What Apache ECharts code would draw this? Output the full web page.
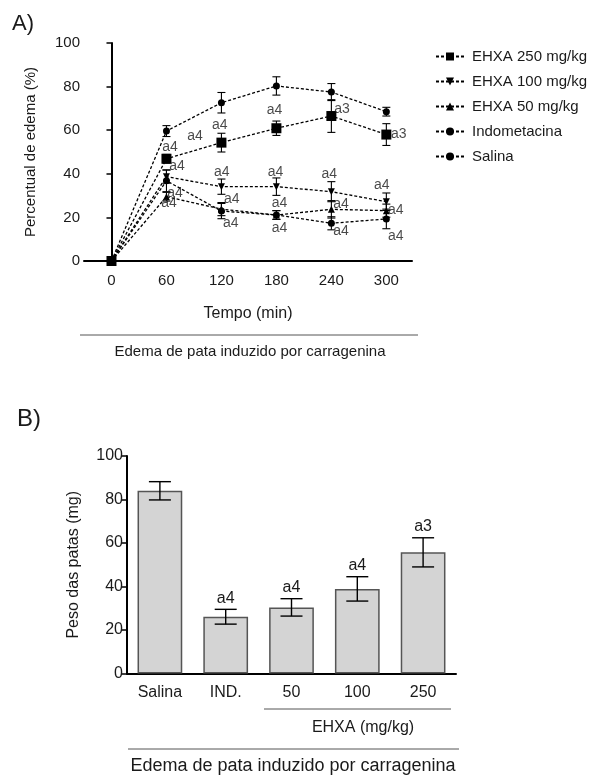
<!DOCTYPE html>
<html>
<head>
<meta charset="utf-8">
<script src="https://cdn.jsdelivr.net/npm/echarts@6/dist/echarts.min.js"></script>
<style>
  html, body { margin: 0; padding: 0; background: #fff; }
  #main { width: 591px; height: 776px; }
</style>
</head>
<body>
<div id="main"></div>
<script>
var chartDom = document.getElementById('main');
var myChart = echarts.init(chartDom);
var option;

// A) edema (%) over time
var timePoints = [0, 60, 120, 180, 240, 300];
var ehxa250 = [0, 46.9, 54.3, 60.9, 66.5, 58.0];
var ehxa250Err = [0, 2, 4.3, 3.3, 7.5, 5];
var ehxa100 = [0, 38.7, 34.1, 34.1, 31.8, 27.2];
var ehxa100Err = [0, 3, 3.5, 4, 4.6, 4];
var ehxa50 = [0, 29.5, 23.8, 21.1, 23.7, 23.1];
var ehxa50Err = [0, 2, 3, 2, 4, 3];
var indometacina = [0, 36.8, 22.9, 21.1, 17.3, 19.3];
var indometacinaErr = [0, 5, 3.5, 2, 3, 4.5];
var salina = [0, 59.6, 72.6, 80.3, 77.5, 68.5];
var salinaErr = [0, 2.5, 4.7, 4.2, 3.9, 2];
var timeTicks = [0, 60, 120, 180, 240, 300];

// significance letters in panel A (x in min, y in %)
var annotA = [
  [64, 52.3, 'a4'], [71.6, 43.6, 'a4'], [69.4, 31.2, 'a4'], [62.9, 26.6, 'a4'],
  [91.1, 57.3, 'a4'], [118.3, 62.4, 'a4'], [120.4, 40.8, 'a4'], [131.3, 28.4, 'a4'], [130.2, 17.4, 'a4'],
  [177.9, 69.3, 'a4'], [179, 40.8, 'a4'], [183.4, 26.6, 'a4'], [183.4, 15.1, 'a4'],
  [251.7, 69.7, 'a3'], [237.6, 39.9, 'a4'], [250.6, 26.1, 'a4'], [250.6, 13.8, 'a4'],
  [313.5, 58.3, 'a3'], [295.1, 34.9, 'a4'], [310.3, 23.4, 'a4'], [310.3, 11.5, 'a4']
];

// B) paw weight
var groupsB = ['Salina', 'IND.', '50', '100', '250'];
var pesoB = [84, 26.1, 30.4, 38.9, 55.7];
var pesoErr = [4.2, 3.4, 4, 5.6, 6.7];
var lettersB = ['', 'a4', 'a4', 'a4', 'a3'];

var FONT = 'Liberation Sans, Arial, sans-serif';
var TXT = '#1a1a1a';

function pts(vals) {
  return timePoints.map(function (t, i) { return [t, vals[i]]; });
}
function errs(vals, e) {
  return timePoints.map(function (t, i) { return [t, vals[i] - e[i], vals[i] + e[i]]; });
}

function errorBar(capHalf, lw) {
  return function (params, api) {
    var x = api.value(0);
    var lo = api.coord([x, api.value(1)]);
    var hi = api.coord([x, api.value(2)]);
    var st = { stroke: '#000', lineWidth: lw };
    return {
      type: 'group',
      children: [
        { type: 'line', shape: { x1: lo[0], y1: lo[1], x2: hi[0], y2: hi[1] }, style: st },
        { type: 'line', shape: { x1: hi[0] - capHalf, y1: hi[1], x2: hi[0] + capHalf, y2: hi[1] }, style: st },
        { type: 'line', shape: { x1: lo[0] - capHalf, y1: lo[1], x2: lo[0] + capHalf, y2: lo[1] }, style: st }
      ]
    };
  };
}

var lineStyleA = { color: '#000', width: 1.3, type: [3, 2] };

function lineSeries(name, vals, symbol, size) {
  return {
    name: name,
    type: 'line',
    xAxisIndex: 0,
    yAxisIndex: 0,
    data: pts(vals),
    symbol: symbol,
    symbolSize: size,
    showAllSymbol: true,
    clip: false,
    z: 5,
    itemStyle: { color: '#000' },
    lineStyle: lineStyleA
  };
}
function errSeries(vals, e) {
  return {
    type: 'custom',
    xAxisIndex: 0,
    yAxisIndex: 0,
    renderItem: errorBar(4, 1.1),
    data: errs(vals, e),
    z: 3,
    silent: true
  };
}

option = {
  animation: false,
  backgroundColor: '#fff',
  textStyle: { fontFamily: FONT, color: TXT },
  grid: [
    { left: 84, top: 43, width: 328, height: 218 },
    { left: 127, top: 456, width: 329, height: 217.5 }
  ],
  legend: {
    orient: 'vertical',
    left: 430,
    top: 44,
    padding: 5,
    itemWidth: 28,
    itemHeight: 10,
    itemGap: 10,
    textStyle: { fontFamily: FONT, fontSize: 15, color: TXT, padding: [0, 0, 0, 3] },
    data: ['EHXA 250 mg/kg', 'EHXA 100 mg/kg', 'EHXA 50 mg/kg', 'Indometacina', 'Salina']
  },
  xAxis: [
    {
      type: 'value',
      gridIndex: 0,
      min: -30,
      max: 328,
      interval: 30,
      name: 'Tempo (min)',
      nameLocation: 'middle',
      nameGap: 45,
      nameTextStyle: { fontFamily: FONT, fontSize: 16, color: TXT },
      axisLine: { lineStyle: { color: '#000', width: 2 } },
      axisTick: { show: false },
      splitLine: { show: false },
      axisLabel: {
        margin: 12,
        fontFamily: FONT, fontSize: 15, color: TXT,
        formatter: function (v) { return timeTicks.indexOf(v) >= 0 ? String(v) : ''; }
      }
    },
    {
      type: 'category',
      gridIndex: 1,
      data: groupsB,
      axisLine: { lineStyle: { color: '#000', width: 2 } },
      axisTick: { show: false },
      axisLabel: { margin: 11, fontFamily: FONT, fontSize: 16, color: TXT }
    }
  ],
  yAxis: [
    {
      type: 'value',
      gridIndex: 0,
      min: 0,
      max: 100,
      interval: 20,
      name: 'Percentual de edema (%)',
      nameLocation: 'middle',
      nameGap: 46,
      nameTextStyle: { fontFamily: FONT, fontSize: 15, color: TXT },
      axisLine: { show: true, lineStyle: { color: '#000', width: 2 } },
      axisTick: { show: true, length: 5, lineStyle: { color: '#000', width: 1.5 } },
      splitLine: { show: false },
      axisLabel: { margin: 4, fontFamily: FONT, fontSize: 15, color: TXT }
    },
    {
      type: 'value',
      gridIndex: 1,
      min: 0,
      max: 100,
      interval: 20,
      name: 'Peso das patas (mg)',
      nameLocation: 'middle',
      nameGap: 45,
      nameTextStyle: { fontFamily: FONT, fontSize: 16, color: TXT },
      axisLine: { show: true, lineStyle: { color: '#000', width: 2 } },
      axisTick: { show: true, length: 5, lineStyle: { color: '#000', width: 1.5 } },
      splitLine: { show: false },
      axisLabel: { margin: 4, fontFamily: FONT, fontSize: 16, color: TXT }
    }
  ],
  series: [
    errSeries(ehxa250, ehxa250Err),
    errSeries(ehxa100, ehxa100Err),
    errSeries(ehxa50, ehxa50Err),
    errSeries(indometacina, indometacinaErr),
    errSeries(salina, salinaErr),
    lineSeries('EHXA 250 mg/kg', ehxa250, 'rect', 10),
    lineSeries('EHXA 100 mg/kg', ehxa100, 'path://M0,0 L10,0 L5,9 Z', 7),
    lineSeries('EHXA 50 mg/kg', ehxa50, 'triangle', 7),
    lineSeries('Indometacina', indometacina, 'circle', 7),
    lineSeries('Salina', salina, 'circle', 7),
    {
      type: 'scatter',
      xAxisIndex: 0,
      yAxisIndex: 0,
      symbolSize: 0,
      silent: true,
      data: annotA,
      z: 6,
      label: {
        show: true,
        position: 'inside',
        fontFamily: FONT,
        fontSize: 14,
        color: TXT,
        formatter: function (p) { return p.value[2]; }
      }
    },
    {
      type: 'bar',
      xAxisIndex: 1,
      yAxisIndex: 1,
      data: pesoB,
      barCategoryGap: '32%',
      itemStyle: { color: '#d4d4d4', borderColor: '#555', borderWidth: 1.5 },
      z: 2
    },
    {
      type: 'custom',
      xAxisIndex: 1,
      yAxisIndex: 1,
      silent: true,
      z: 4,
      renderItem: function (params, api) {
        var g = errorBar(11, 1.4)(params, api);
        var top = api.coord([api.value(0), api.value(2)]);
        g.children.push({
          type: 'text',
          style: {
            text: lettersB[params.dataIndex],
            x: top[0], y: top[1] - 3,
            align: 'center', verticalAlign: 'bottom',
            font: '16px ' + FONT, fill: TXT
          }
        });
        return g;
      },
      data: groupsB.map(function (g, i) { return [i, pesoB[i] - pesoErr[i], pesoB[i] + pesoErr[i]]; })
    }
  ],
  graphic: [
    { type: 'text', left: 12, top: 13, style: { text: 'A)', font: '22px ' + FONT, fill: TXT } },
    { type: 'text', left: 17, top: 407, style: { text: 'B)', font: '24px ' + FONT, fill: TXT } },
    { type: 'line', shape: { x1: 80, y1: 335, x2: 418, y2: 335 }, style: { stroke: '#555', lineWidth: 1 } },
    { type: 'text', x: 250, y: 352, style: { text: 'Edema de pata induzido por carragenina', font: '15px ' + FONT, fill: TXT, align: 'center', verticalAlign: 'middle' } },
    { type: 'line', shape: { x1: 264, y1: 709, x2: 451, y2: 709 }, style: { stroke: '#555', lineWidth: 1 } },
    { type: 'text', x: 363, y: 728, style: { text: 'EHXA (mg/kg)', font: '16px ' + FONT, fill: TXT, align: 'center', verticalAlign: 'middle' } },
    { type: 'line', shape: { x1: 128, y1: 749, x2: 459, y2: 749 }, style: { stroke: '#555', lineWidth: 1 } },
    { type: 'text', x: 293, y: 766, style: { text: 'Edema de pata induzido por carragenina', font: '18px ' + FONT, fill: TXT, align: 'center', verticalAlign: 'middle' } }
  ]
};

option && myChart.setOption(option);
</script>
</body>
</html>
